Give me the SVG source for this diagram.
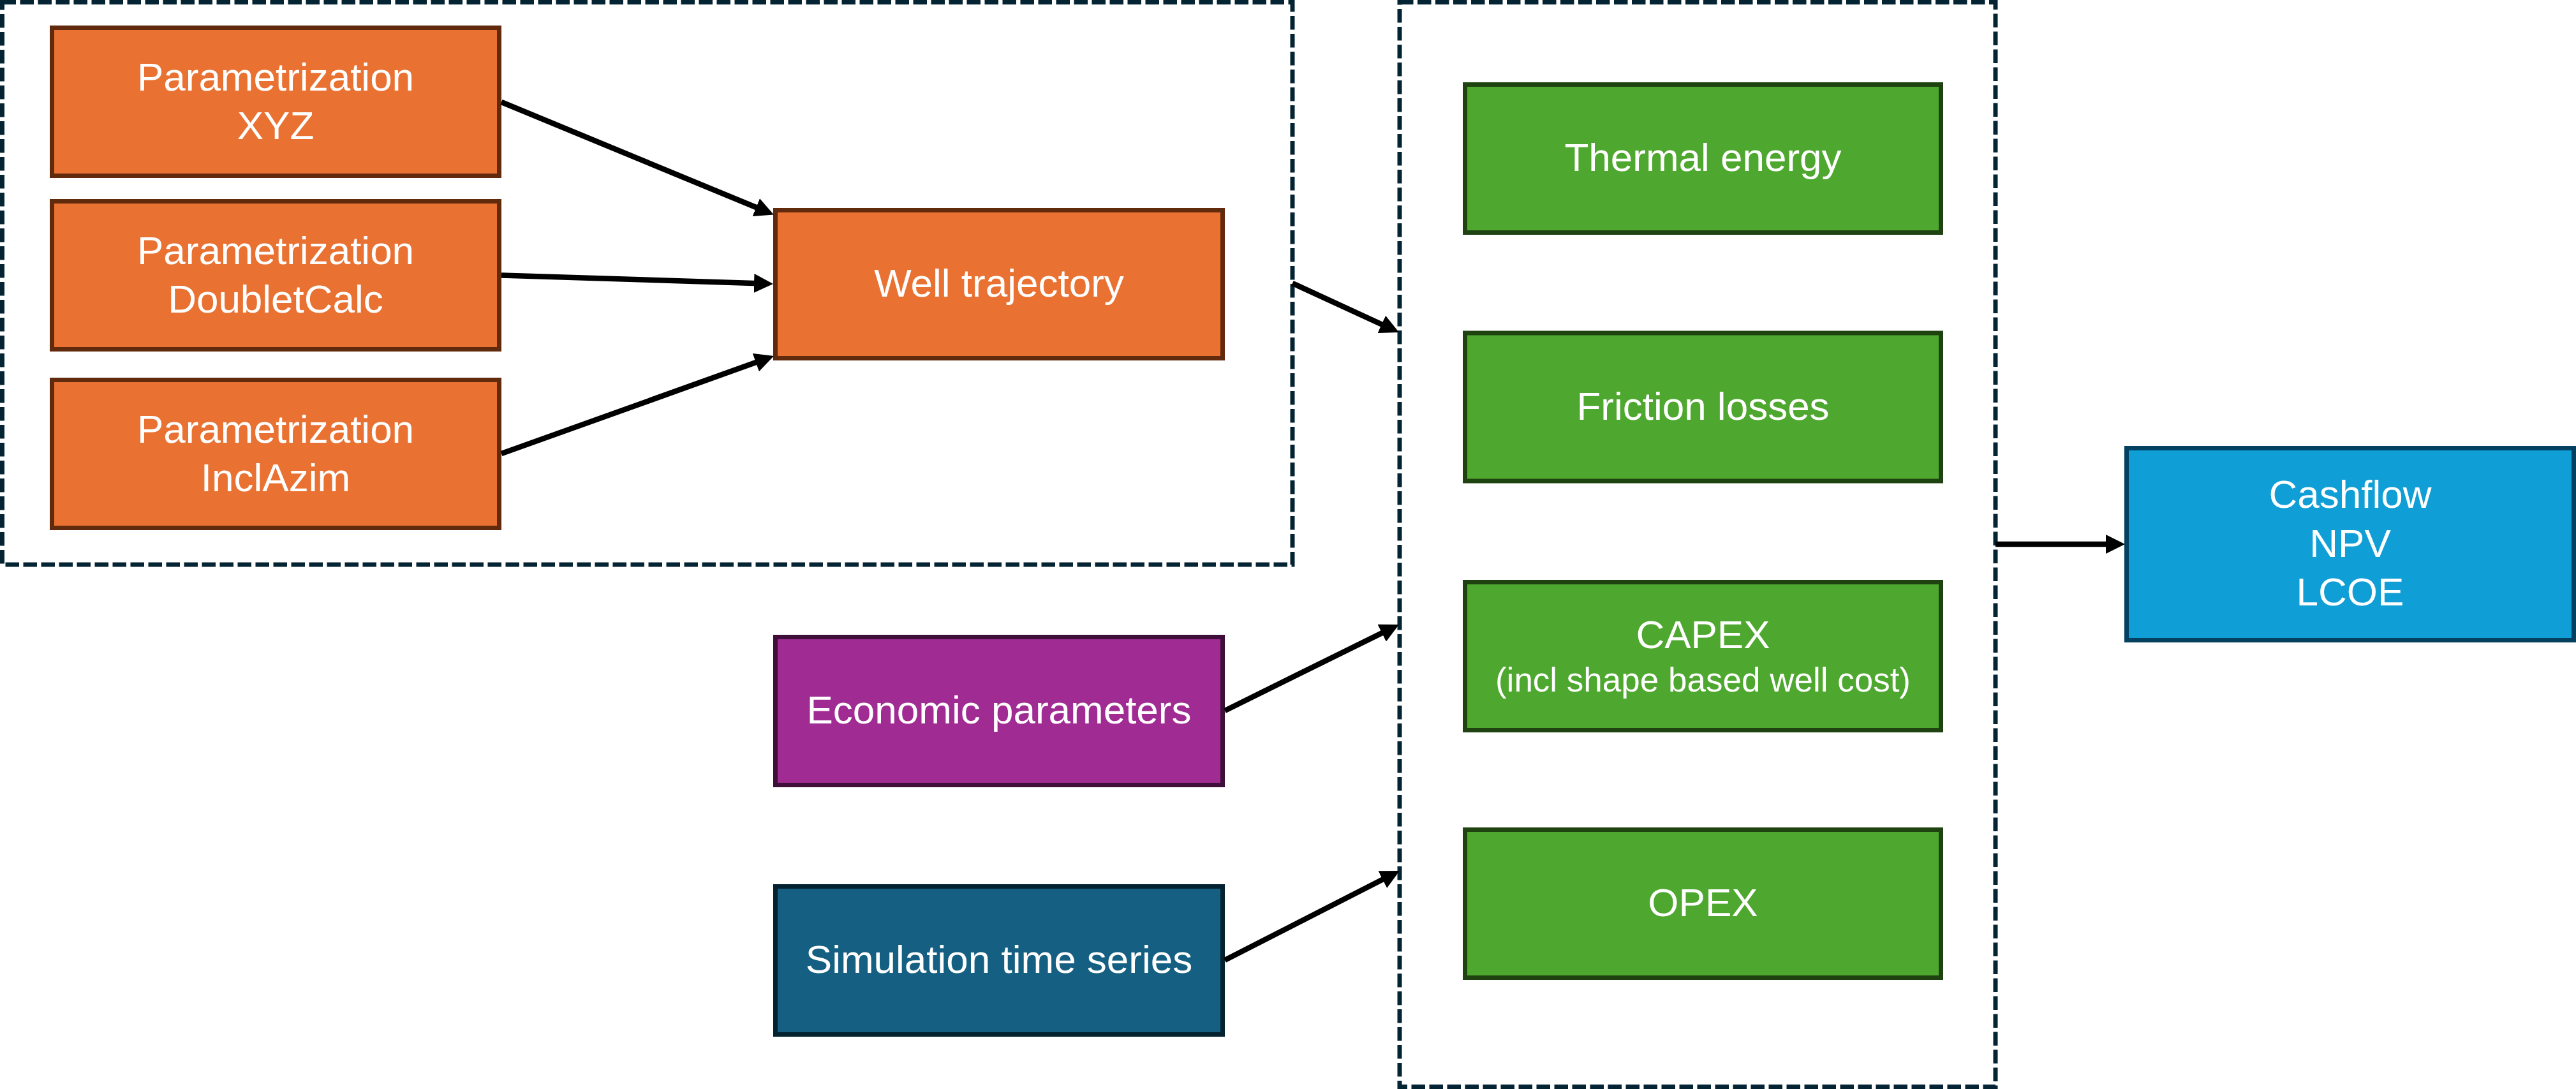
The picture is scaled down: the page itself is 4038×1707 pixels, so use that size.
<svg xmlns="http://www.w3.org/2000/svg" width="4038" height="1707" viewBox="0 0 4038 1707">
<style>
.grp{fill:none;stroke:#042433;stroke-width:7;stroke-dasharray:21.5 6.5}
.box{stroke-width:7}
.orange{fill:#E97132;stroke:#612A0D}
.green{fill:#4EA72E;stroke:#1E4310}
.purple{fill:#A02B93;stroke:#3F0F3A}
.teal{fill:#156082;stroke:#04222F}
.blue{fill:#0F9ED5;stroke:#044160}
text{font-family:"Liberation Sans",Arial,sans-serif;font-size:62px;fill:#FFFFFF;text-anchor:middle}
.small{font-size:53px}
.conn line{stroke:#000000;stroke-width:8.5;fill:none;marker-end:url(#arrow)}
</style>
<defs>
<marker id="arrow" markerUnits="userSpaceOnUse" markerWidth="30" markerHeight="30" viewBox="0 0 30 30" refX="15" refY="15" orient="auto">
<path d="M0,0 L30,15 L0,30 z" fill="#000000"/>
</marker>
</defs>
<rect width="4038" height="1707" fill="#FFFFFF"/>
<g id="groups">
<rect id="group-trajectory" class="grp" x="3.5" y="3.5" width="2022.5" height="881.5"/>
<rect id="group-calc" class="grp" x="2194" y="3.5" width="934" height="1700"/>
</g>
<g id="param-xyz">
<rect class="box orange" x="81.5" y="43.5" width="701" height="232"/>
<text x="432" y="141.5">Parametrization</text>
<text x="432" y="218">XYZ</text>
</g>
<g id="param-doubletcalc">
<rect class="box orange" x="81.5" y="315.5" width="701" height="232"/>
<text x="432" y="413.5">Parametrization</text>
<text x="432" y="490">DoubletCalc</text>
</g>
<g id="param-inclazim">
<rect class="box orange" x="81.5" y="595.5" width="701" height="232"/>
<text x="432" y="693.5">Parametrization</text>
<text x="432" y="770">InclAzim</text>
</g>
<g id="well-trajectory">
<rect class="box orange" x="1215.5" y="329.5" width="701" height="232"/>
<text x="1566" y="465">Well trajectory</text>
</g>
<g id="economic-parameters">
<rect class="box purple" x="1215.5" y="998.5" width="701" height="232"/>
<text x="1566" y="1134">Economic parameters</text>
</g>
<g id="simulation-time-series">
<rect class="box teal" x="1215.5" y="1389.5" width="701" height="232"/>
<text x="1566" y="1525">Simulation time series</text>
</g>
<g id="thermal-energy">
<rect class="box green" x="2296.5" y="132.5" width="746" height="232"/>
<text x="2669.5" y="268">Thermal energy</text>
</g>
<g id="friction-losses">
<rect class="box green" x="2296.5" y="522" width="746" height="232"/>
<text x="2669.5" y="657.5">Friction losses</text>
</g>
<g id="capex">
<rect class="box green" x="2296.5" y="912.5" width="746" height="232"/>
<text x="2669.5" y="1016">CAPEX</text>
<text class="small" x="2669.5" y="1084">(incl shape based well cost)</text>
</g>
<g id="opex">
<rect class="box green" x="2296.5" y="1300.5" width="746" height="232"/>
<text x="2669.5" y="1436">OPEX</text>
</g>
<g id="cashflow">
<rect class="box blue" x="3333.5" y="702.5" width="701" height="301"/>
<text x="3684" y="796">Cashflow</text>
<text x="3684" y="872.5">NPV</text>
<text x="3684" y="949">LCOE</text>
</g>
<g id="connectors" class="conn">
<line x1="786" y1="160" x2="1199.1" y2="330.8"/>
<line x1="786" y1="431.5" x2="1197" y2="444.5"/>
<line x1="786" y1="711" x2="1198.9" y2="563.1"/>
<line x1="2026" y1="444" x2="2179.4" y2="514.7"/>
<line x1="1920" y1="1114" x2="2179.6" y2="985.6"/>
<line x1="1920" y1="1505" x2="2180.6" y2="1371.8"/>
<line x1="3128" y1="853" x2="3316" y2="853"/>
</g>
</svg>
